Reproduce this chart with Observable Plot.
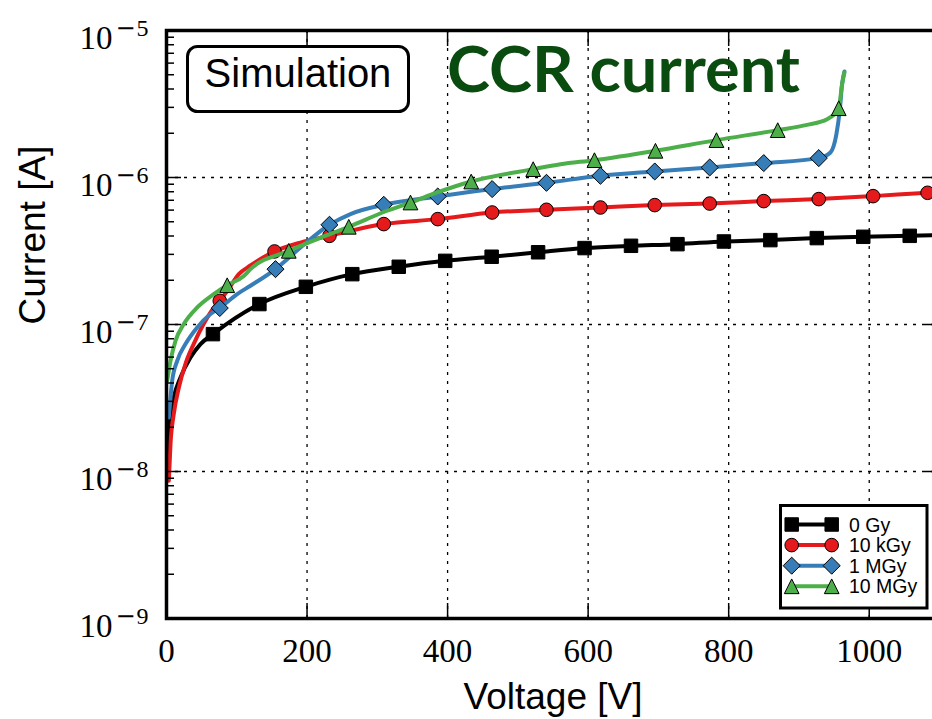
<!DOCTYPE html>
<html>
<head>
<meta charset="utf-8">
<script src="https://cdn.jsdelivr.net/npm/d3@7"></script>
<script src="https://cdn.jsdelivr.net/npm/@observablehq/plot@0.6"></script>
<style>
  html, body { margin: 0; padding: 0; background: #fff; overflow: hidden; }
  #chart { width: 932px; height: 719px; overflow: hidden; }
  #chart svg { max-width: none !important; }
</style>
</head>
<body>
<div id="chart"></div>
<script>
// Simulated CCR leakage current vs. bias voltage for four irradiation doses.
const seriesNames = ["0 Gy", "10 kGy", "1 MGy", "10 MGy"];
const seriesColors = ["#000000", "#e41a1c", "#377eb8", "#4daf4a"];

// 0 Gy
const volt0Gy = [1.8, 4.7, 10.4, 19.9, 34.1, 48.4, 66.1, 132.2, 198.3, 264.4, 330.5, 396.6, 462.7, 528.8, 594.9, 661, 727.1, 793.2, 859.3, 925.4, 991.5, 1057.6, 1100];
const curr0Gy = [1.01e-8, 2.21e-8, 3.19e-8, 4.36e-8, 5.96e-8, 7.36e-8, 8.6e-8, 1.377e-7, 1.805e-7, 2.2e-7, 2.47e-7, 2.71e-7, 2.89e-7, 3.1e-7, 3.31e-7, 3.43e-7, 3.52e-7, 3.67e-7, 3.75e-7, 3.87e-7, 3.95e-7, 4.01e-7, 4.07e-7];
const marks0Gy = [66.1, 132.2, 198.3, 264.4, 330.5, 396.6, 462.7, 528.8, 594.9, 661, 727.1, 793.2, 859.3, 925.4, 991.5, 1057.6];

// 10 kGy
const volt10kGy = [3.3, 5.7, 10.4, 17.5, 27, 38.8, 53, 67.3, 75.8, 88.2, 102.9, 119.5, 153.7, 190.7, 231.9, 309.2, 386, 463.4, 540.7, 617.5, 694.8, 773, 849.9, 928.2, 1005.5, 1083, 1100];
const curr10kGy = [8.65e-9, 1.543e-8, 2.47e-8, 3.71e-8, 5.4e-8, 7.39e-8, 1.011e-7, 1.3e-7, 1.449e-7, 1.74e-7, 2.2e-7, 2.52e-7, 3.14e-7, 3.61e-7, 4.01e-7, 4.82e-7, 5.21e-7, 5.78e-7, 6.03e-7, 6.25e-7, 6.49e-7, 6.65e-7, 6.91e-7, 7.13e-7, 7.47e-7, 7.87e-7, 7.95e-7];
const marks10kGy = [75.8, 153.7, 231.9, 309.2, 386, 463.4, 540.7, 617.5, 694.8, 773, 849.9, 928.2, 1005.5, 1083];

// 1 MGy
const volt1MGy = [3.3, 8.1, 15.2, 27, 43.7, 62.6, 75.8, 100.6, 119.5, 155.1, 190.7, 231.9, 261.8, 309.2, 386, 463.4, 540.7, 617.5, 694.8, 773, 849.9, 928.2, 944.8, 953.3, 958, 961.4, 964.7];
const curr1MGy = [2.33e-8, 4.14e-8, 5.66e-8, 7.36e-8, 9.55e-8, 1.178e-7, 1.294e-7, 1.61e-7, 1.834e-7, 2.38e-7, 3.34e-7, 4.77e-7, 5.64e-7, 6.52e-7, 7.43e-7, 8.34e-7, 9.2e-7, 1.027e-6, 1.099e-6, 1.17e-6, 1.253e-6, 1.355e-6, 1.479e-6, 1.973e-6, 2.84e-6, 4.32e-6, 5.26e-6];
const marks1MGy = [75.8, 155.1, 231.9, 309.2, 386, 463.4, 540.7, 617.5, 694.8, 773, 849.9, 928.2];

// 10 MGy
const volt10MGy = [1, 5.7, 12.8, 24.6, 43.7, 67.3, 86.4, 110, 119.5, 174, 214.4, 259.4, 314, 347.2, 385.2, 433.6, 521.8, 560.6, 609, 695.8, 782.6, 869.8, 911.6, 940, 956.6, 961.4, 964.7];
const curr10MGy = [4.14e-8, 5.66e-8, 7.74e-8, 1.007e-7, 1.306e-7, 1.61e-7, 1.85e-7, 2.14e-7, 2.38e-7, 3.17e-7, 3.81e-7, 4.62e-7, 5.94e-7, 6.76e-7, 7.91e-7, 9.39e-7, 1.14e-6, 1.23e-6, 1.312e-6, 1.52e-6, 1.796e-6, 2.1e-6, 2.28e-6, 2.49e-6, 2.96e-6, 4.32e-6, 5.18e-6];
const marks10MGy = [86.4, 174, 259.4, 347.2, 433.6, 521.8, 609, 695.8, 782.6, 869.8, 956.6];

// Axis ticks
const xTicks = [0, 200, 400, 600, 800, 1000];
const yTicks = [1e-9, 1e-8, 1e-7, 1e-6, 1e-5];
const yMinorTicks = [];
for (const d of [1e-9, 1e-8, 1e-7, 1e-6]) for (let m = 2; m <= 9; m++) yMinorTicks.push(m * d);

// Marker shapes (matplotlib-style square, circle, diamond, triangle)
const symSquare = { draw(ctx, size) { const s = Math.sqrt(size) / 2; ctx.moveTo(-s, -s); ctx.lineTo(s, -s); ctx.lineTo(s, s); ctx.lineTo(-s, s); ctx.closePath(); } };
const symCircle = { draw(ctx, size) { const r = Math.sqrt(size / Math.PI); ctx.moveTo(r, 0); ctx.arc(0, 0, r, 0, 2 * Math.PI); ctx.closePath(); } };
const symDiamond = { draw(ctx, size) { const h = Math.sqrt(size / 2); ctx.moveTo(0, -h); ctx.lineTo(h, 0); ctx.lineTo(0, h); ctx.lineTo(-h, 0); ctx.closePath(); } };
const symTriangle = { draw(ctx, size) { const h = Math.sqrt(size) / 2; ctx.moveTo(0, -h); ctx.lineTo(h, h); ctx.lineTo(-h, h); ctx.closePath(); } };
const seriesSymbols = [symSquare, symCircle, symDiamond, symTriangle];
const seriesRadius = [7.6, 6.8, 6.8, 8.3];

const seriesData = [
  [volt0Gy, curr0Gy, marks0Gy],
  [volt10kGy, curr10kGy, marks10kGy],
  [volt1MGy, curr1MGy, marks1MGy],
  [volt10MGy, curr10MGy, marks10MGy]
];

const curveRows = [];
const markerRows = [];
seriesData.forEach(([vs, cs, ms], k) => {
  vs.forEach((v, j) => {
    const row = { series: seriesNames[k], v, i: cs[j] };
    curveRows.push(row);
    if (ms.includes(v)) markerRows.push(row);
  });
});

const serif = "'Liberation Serif', 'Times New Roman', serif";
const sans = "'Liberation Sans', Arial, Helvetica, sans-serif";
const gridStyle = { stroke: "#000", strokeOpacity: 1, strokeWidth: 1.3, strokeDasharray: "3,6" };

const seriesMarks = [];
seriesNames.forEach((name, k) => {
  seriesMarks.push(Plot.line(curveRows.filter(d => d.series === name), {
    x: "v", y: "i", stroke: seriesColors[k], strokeWidth: 4, curve: "monotone-x", clip: true
  }));
  seriesMarks.push(Plot.dot(markerRows.filter(d => d.series === name), {
    x: "v", y: "i", symbol: seriesSymbols[k], r: seriesRadius[k],
    fill: seriesColors[k], stroke: "#000", strokeWidth: 1
  }));
});

const svg = Plot.plot({
  width: 945,
  height: 719,
  marginLeft: 166,
  marginRight: 6,
  marginTop: 30,
  marginBottom: 101,
  style: { background: "#fff", fontFamily: sans, color: "#000", overflow: "visible", maxWidth: "none" },
  x: { domain: [0, 1100] },
  y: { type: "log", domain: [1e-9, 1e-5] },
  marks: [
    Plot.gridX(xTicks.slice(1), gridStyle),
    Plot.gridY([1e-8, 1e-7, 1e-6], gridStyle),
    ...seriesMarks,
    // inward major and minor ticks on all four sides
    Plot.axisX(xTicks, { anchor: "bottom", tickSize: -15, strokeWidth: 1.5, fill: "none", label: null }),
    Plot.axisX(xTicks, { anchor: "top", tickSize: -15, strokeWidth: 1.5, fill: "none", label: null }),
    Plot.axisY(yTicks, { anchor: "left", tickSize: -15, strokeWidth: 1.5, fill: "none", label: null }),
    Plot.axisY(yTicks, { anchor: "right", tickSize: -15, strokeWidth: 1.5, fill: "none", label: null }),
    Plot.axisY(yMinorTicks, { anchor: "left", tickSize: -8, strokeWidth: 1.5, fill: "none", label: null }),
    Plot.axisY(yMinorTicks, { anchor: "right", tickSize: -8, strokeWidth: 1.5, fill: "none", label: null }),
    // tick labels
    Plot.axisX(xTicks, { anchor: "bottom", tickSize: 0, tickPadding: 20, fontSize: 33, fontFamily: serif, label: null,
      tickFormat: d => String(d) }),
    Plot.axisY(yTicks, { anchor: "left", tickSize: 0, tickPadding: 18, fontSize: 33, fontFamily: serif, label: null,
      tickFormat: d => `10^${Math.round(Math.log10(d))}` }),
    Plot.frame({ stroke: "#000", strokeWidth: 3.5 }),
    // axis titles
    Plot.text(["Voltage [V]"], { frameAnchor: "bottom", dy: 90, lineAnchor: "bottom", fontSize: 37, fontFamily: sans, fill: "#000" }),
    Plot.text(["Current [A]"], { frameAnchor: "left", dx: -133, rotate: -90, fontSize: 37, fontFamily: sans, fill: "#000" })
  ]
});

const root = d3.select(svg);

// power-of-ten tick labels with a raised exponent
root.selectAll("text").filter(function () { return /^10\^/.test(this.textContent); }).each(function () {
  const exp = this.textContent.split("^")[1];
  const t = d3.select(this);
  t.text(null).attr("dy", "0.24em");
  t.append("tspan").text("10");
  if (exp.startsWith("-")) {
    t.append("tspan").attr("dx", 3).attr("dy", -12.5).attr("font-size", 24)
      .attr("font-family", "'DejaVu Serif', serif").text("\u2212");
    t.append("tspan").attr("dx", 1).attr("font-size", 24).text(exp.slice(1));
  } else {
    t.append("tspan").attr("dx", 3).attr("dy", -12.5).attr("font-size", 24).text(exp);
  }
});

const notes = root.append("g").attr("text-anchor", "start");

// "Simulation" badge
notes.append("rect")
  .attr("x", 187.5).attr("y", 46.5).attr("width", 221).attr("height", 65).attr("rx", 10)
  .attr("fill", "#fff").attr("stroke", "#000").attr("stroke-width", 3);
notes.append("text")
  .attr("x", 298).attr("y", 87).attr("text-anchor", "middle")
  .attr("font-family", sans).attr("font-size", 40).attr("fill", "#000")
  .text("Simulation");

// Title
notes.append("text")
  .attr("x", 447).attr("y", 92).attr("text-anchor", "start")
  .attr("font-family", "Lato, 'Open Sans', sans-serif").attr("font-weight", "bold").attr("font-size", 64)
  .attr("fill", "#0a4b10")
  .attr("textLength", 353).attr("lengthAdjust", "spacingAndGlyphs")
  .text("CCR current");

// Legend
const legend = notes.append("g");
legend.append("rect")
  .attr("x", 780.5).attr("y", 505.5).attr("width", 146.5).attr("height", 102.5)
  .attr("fill", "#fff").attr("stroke", "#000").attr("stroke-width", 3);
seriesNames.forEach((name, k) => {
  const y = 524.5 + 20.6 * k;
  legend.append("line").attr("x1", 791.7).attr("x2", 831.7).attr("y1", y).attr("y2", y)
    .attr("stroke", seriesColors[k]).attr("stroke-width", 4);
  const path = d3.symbol().type(seriesSymbols[k]).size(Math.PI * seriesRadius[k] ** 2)();
  for (const x of [791.7, 831.7]) {
    legend.append("path").attr("d", path).attr("transform", `translate(${x},${y})`)
      .attr("fill", seriesColors[k]).attr("stroke", "#000").attr("stroke-width", 1);
  }
  legend.append("text").attr("x", 849).attr("y", y + 7).attr("text-anchor", "start")
    .attr("font-family", sans).attr("font-size", 19.5).attr("fill", "#000")
    .text(name);
});

document.getElementById("chart").appendChild(svg);
</script>
</body>
</html>
